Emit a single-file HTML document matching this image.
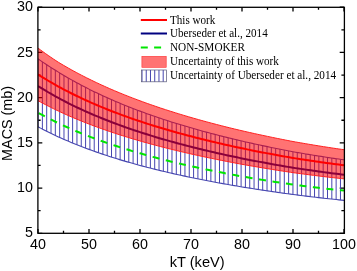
<!DOCTYPE html>
<html><head><meta charset="utf-8"><style>
html,body{margin:0;padding:0;background:#fff;}
svg{display:block;filter:blur(0.25px);}
text{font-family:"Liberation Sans",sans-serif;}
.serif text{font-family:"Liberation Serif",serif;}
</style></head><body>
<svg width="357" height="271" viewBox="0 0 357 271">
<rect width="357" height="271" fill="#fff"/>
<defs>
<clipPath id="hb"><path d="M38.00,58.79 L40.55,60.58 L43.10,62.33 L45.65,64.04 L48.20,65.72 L50.75,67.36 L53.30,68.97 L55.85,70.55 L58.40,72.10 L60.95,73.67 L63.50,75.20 L66.05,76.71 L68.60,78.18 L71.15,79.64 L73.70,81.06 L76.25,82.46 L78.80,83.84 L81.35,85.19 L83.90,86.52 L86.45,87.83 L89.00,89.12 L91.55,90.39 L94.10,91.64 L96.65,92.87 L99.20,94.08 L101.75,95.27 L104.30,96.44 L106.85,97.59 L109.40,98.73 L111.95,99.85 L114.50,100.95 L117.05,102.03 L119.60,103.10 L122.15,104.15 L124.70,105.19 L127.25,106.22 L129.80,107.22 L132.35,108.22 L134.90,109.20 L137.45,110.17 L140.00,111.12 L142.55,112.06 L145.10,112.99 L147.65,113.91 L150.20,114.82 L152.75,115.71 L155.30,116.59 L157.85,117.46 L160.40,118.32 L162.95,119.17 L165.50,120.01 L168.05,120.83 L170.60,121.65 L173.15,122.45 L175.70,123.25 L178.25,124.04 L180.80,124.82 L183.35,125.58 L185.90,126.34 L188.45,127.09 L191.00,127.83 L193.55,128.57 L196.10,129.29 L198.65,130.01 L201.20,130.72 L203.75,131.42 L206.30,132.12 L208.85,132.80 L211.40,133.48 L213.95,134.15 L216.50,134.82 L219.05,135.47 L221.60,136.12 L224.15,136.77 L226.70,137.40 L229.25,138.03 L231.80,138.65 L234.35,139.27 L236.90,139.88 L239.45,140.48 L242.00,141.08 L244.55,141.67 L247.10,142.24 L249.65,142.82 L252.20,143.38 L254.75,143.94 L257.30,144.50 L259.85,145.05 L262.40,145.59 L264.95,146.13 L267.50,146.66 L270.05,147.19 L272.60,147.72 L275.15,148.23 L277.70,148.75 L280.25,149.26 L282.80,149.76 L285.35,150.26 L287.90,150.75 L290.45,151.24 L293.00,151.73 L295.55,152.18 L298.10,152.62 L300.65,153.06 L303.20,153.49 L305.75,153.92 L308.30,154.34 L310.85,154.76 L313.40,155.18 L315.95,155.59 L318.50,156.00 L321.05,156.41 L323.60,156.81 L326.15,157.21 L328.70,157.60 L331.25,157.98 L333.80,158.35 L336.35,158.72 L338.90,159.08 L341.45,159.44 L344.00,159.79 L344.00,200.36 L341.45,200.10 L338.90,199.84 L336.35,199.57 L333.80,199.30 L331.25,199.03 L328.70,198.75 L326.15,198.47 L323.60,198.18 L321.05,197.89 L318.50,197.59 L315.95,197.30 L313.40,197.00 L310.85,196.70 L308.30,196.39 L305.75,196.08 L303.20,195.77 L300.65,195.46 L298.10,195.14 L295.55,194.82 L293.00,194.50 L290.45,194.15 L287.90,193.81 L285.35,193.46 L282.80,193.10 L280.25,192.74 L277.70,192.38 L275.15,192.02 L272.60,191.65 L270.05,191.28 L267.50,190.90 L264.95,190.52 L262.40,190.14 L259.85,189.75 L257.30,189.36 L254.75,188.96 L252.20,188.56 L249.65,188.16 L247.10,187.75 L244.55,187.34 L242.00,186.92 L239.45,186.50 L236.90,186.07 L234.35,185.64 L231.80,185.20 L229.25,184.75 L226.70,184.31 L224.15,183.85 L221.60,183.39 L219.05,182.93 L216.50,182.46 L213.95,181.99 L211.40,181.51 L208.85,181.02 L206.30,180.53 L203.75,180.04 L201.20,179.54 L198.65,179.03 L196.10,178.51 L193.55,177.99 L191.00,177.47 L188.45,176.93 L185.90,176.40 L183.35,175.85 L180.80,175.30 L178.25,174.74 L175.70,174.17 L173.15,173.60 L170.60,173.02 L168.05,172.43 L165.50,171.84 L162.95,171.23 L160.40,170.62 L157.85,170.00 L155.30,169.37 L152.75,168.74 L150.20,168.09 L147.65,167.44 L145.10,166.77 L142.55,166.10 L140.00,165.42 L137.45,164.73 L134.90,164.03 L132.35,163.31 L129.80,162.59 L127.25,161.86 L124.70,161.12 L122.15,160.36 L119.60,159.60 L117.05,158.82 L114.50,158.03 L111.95,157.23 L109.40,156.41 L106.85,155.58 L104.30,154.74 L101.75,153.89 L99.20,153.02 L96.65,152.13 L94.10,151.24 L91.55,150.32 L89.00,149.39 L86.45,148.45 L83.90,147.49 L81.35,146.51 L78.80,145.52 L76.25,144.51 L73.70,143.48 L71.15,142.43 L68.60,141.36 L66.05,140.27 L63.50,139.16 L60.95,138.03 L58.40,136.88 L55.85,135.70 L53.30,134.50 L50.75,133.28 L48.20,132.03 L45.65,130.76 L43.10,129.46 L40.55,128.13 L38.00,126.77 Z"/></clipPath>
<clipPath id="pa"><rect x="38.0" y="7.2" width="306.0" height="226.10000000000002"/></clipPath>
</defs>
<path d="M38.00,233.30 V229.00 M38.00,7.20 V11.50 M63.50,233.30 V230.70 M63.50,7.20 V9.80 M89.00,233.30 V229.00 M89.00,7.20 V11.50 M114.50,233.30 V230.70 M114.50,7.20 V9.80 M140.00,233.30 V229.00 M140.00,7.20 V11.50 M165.50,233.30 V230.70 M165.50,7.20 V9.80 M191.00,233.30 V229.00 M191.00,7.20 V11.50 M216.50,233.30 V230.70 M216.50,7.20 V9.80 M242.00,233.30 V229.00 M242.00,7.20 V11.50 M267.50,233.30 V230.70 M267.50,7.20 V9.80 M293.00,233.30 V229.00 M293.00,7.20 V11.50 M318.50,233.30 V230.70 M318.50,7.20 V9.80 M344.00,233.30 V229.00 M344.00,7.20 V11.50 M38.00,233.30 H42.30 M344.00,233.30 H339.70 M38.00,210.69 H40.60 M344.00,210.69 H341.40 M38.00,188.08 H42.30 M344.00,188.08 H339.70 M38.00,165.47 H40.60 M344.00,165.47 H341.40 M38.00,142.86 H42.30 M344.00,142.86 H339.70 M38.00,120.25 H40.60 M344.00,120.25 H341.40 M38.00,97.64 H42.30 M344.00,97.64 H339.70 M38.00,75.03 H40.60 M344.00,75.03 H341.40 M38.00,52.42 H42.30 M344.00,52.42 H339.70 M38.00,29.81 H40.60 M344.00,29.81 H341.40 M38.00,7.20 H42.30 M344.00,7.20 H339.70" stroke="#000" stroke-width="1.3"/>
<g clip-path="url(#pa)">
<path d="M38.06,0 V271 M42.38,0 V271 M46.70,0 V271 M51.02,0 V271 M55.34,0 V271 M59.66,0 V271 M63.98,0 V271 M68.30,0 V271 M72.62,0 V271 M76.94,0 V271 M81.26,0 V271 M85.58,0 V271 M89.90,0 V271 M94.22,0 V271 M98.54,0 V271 M102.86,0 V271 M107.18,0 V271 M111.50,0 V271 M115.82,0 V271 M120.14,0 V271 M124.46,0 V271 M128.78,0 V271 M133.10,0 V271 M137.42,0 V271 M141.74,0 V271 M146.06,0 V271 M150.38,0 V271 M154.70,0 V271 M159.02,0 V271 M163.34,0 V271 M167.66,0 V271 M171.98,0 V271 M176.30,0 V271 M180.62,0 V271 M184.94,0 V271 M189.26,0 V271 M193.58,0 V271 M197.90,0 V271 M202.22,0 V271 M206.54,0 V271 M210.86,0 V271 M215.18,0 V271 M219.50,0 V271 M223.82,0 V271 M228.14,0 V271 M232.46,0 V271 M236.78,0 V271 M241.10,0 V271 M245.42,0 V271 M249.74,0 V271 M254.06,0 V271 M258.38,0 V271 M262.70,0 V271 M267.02,0 V271 M271.34,0 V271 M275.66,0 V271 M279.98,0 V271 M284.30,0 V271 M288.62,0 V271 M292.94,0 V271 M297.26,0 V271 M301.58,0 V271 M305.90,0 V271 M310.22,0 V271 M314.54,0 V271 M318.86,0 V271 M323.18,0 V271 M327.50,0 V271 M331.82,0 V271 M336.14,0 V271 M340.46,0 V271" stroke="#4646b0" stroke-width="1.0" clip-path="url(#hb)"/>
<path d="M38.00,58.79 L40.55,60.58 L43.10,62.33 L45.65,64.04 L48.20,65.72 L50.75,67.36 L53.30,68.97 L55.85,70.55 L58.40,72.10 L60.95,73.67 L63.50,75.20 L66.05,76.71 L68.60,78.18 L71.15,79.64 L73.70,81.06 L76.25,82.46 L78.80,83.84 L81.35,85.19 L83.90,86.52 L86.45,87.83 L89.00,89.12 L91.55,90.39 L94.10,91.64 L96.65,92.87 L99.20,94.08 L101.75,95.27 L104.30,96.44 L106.85,97.59 L109.40,98.73 L111.95,99.85 L114.50,100.95 L117.05,102.03 L119.60,103.10 L122.15,104.15 L124.70,105.19 L127.25,106.22 L129.80,107.22 L132.35,108.22 L134.90,109.20 L137.45,110.17 L140.00,111.12 L142.55,112.06 L145.10,112.99 L147.65,113.91 L150.20,114.82 L152.75,115.71 L155.30,116.59 L157.85,117.46 L160.40,118.32 L162.95,119.17 L165.50,120.01 L168.05,120.83 L170.60,121.65 L173.15,122.45 L175.70,123.25 L178.25,124.04 L180.80,124.82 L183.35,125.58 L185.90,126.34 L188.45,127.09 L191.00,127.83 L193.55,128.57 L196.10,129.29 L198.65,130.01 L201.20,130.72 L203.75,131.42 L206.30,132.12 L208.85,132.80 L211.40,133.48 L213.95,134.15 L216.50,134.82 L219.05,135.47 L221.60,136.12 L224.15,136.77 L226.70,137.40 L229.25,138.03 L231.80,138.65 L234.35,139.27 L236.90,139.88 L239.45,140.48 L242.00,141.08 L244.55,141.67 L247.10,142.24 L249.65,142.82 L252.20,143.38 L254.75,143.94 L257.30,144.50 L259.85,145.05 L262.40,145.59 L264.95,146.13 L267.50,146.66 L270.05,147.19 L272.60,147.72 L275.15,148.23 L277.70,148.75 L280.25,149.26 L282.80,149.76 L285.35,150.26 L287.90,150.75 L290.45,151.24 L293.00,151.73 L295.55,152.18 L298.10,152.62 L300.65,153.06 L303.20,153.49 L305.75,153.92 L308.30,154.34 L310.85,154.76 L313.40,155.18 L315.95,155.59 L318.50,156.00 L321.05,156.41 L323.60,156.81 L326.15,157.21 L328.70,157.60 L331.25,157.98 L333.80,158.35 L336.35,158.72 L338.90,159.08 L341.45,159.44 L344.00,159.79" fill="none" stroke="#4646b0" stroke-width="1.1"/>
<path d="M38.00,126.77 L40.55,128.13 L43.10,129.46 L45.65,130.76 L48.20,132.03 L50.75,133.28 L53.30,134.50 L55.85,135.70 L58.40,136.88 L60.95,138.03 L63.50,139.16 L66.05,140.27 L68.60,141.36 L71.15,142.43 L73.70,143.48 L76.25,144.51 L78.80,145.52 L81.35,146.51 L83.90,147.49 L86.45,148.45 L89.00,149.39 L91.55,150.32 L94.10,151.24 L96.65,152.13 L99.20,153.02 L101.75,153.89 L104.30,154.74 L106.85,155.58 L109.40,156.41 L111.95,157.23 L114.50,158.03 L117.05,158.82 L119.60,159.60 L122.15,160.36 L124.70,161.12 L127.25,161.86 L129.80,162.59 L132.35,163.31 L134.90,164.03 L137.45,164.73 L140.00,165.42 L142.55,166.10 L145.10,166.77 L147.65,167.44 L150.20,168.09 L152.75,168.74 L155.30,169.37 L157.85,170.00 L160.40,170.62 L162.95,171.23 L165.50,171.84 L168.05,172.43 L170.60,173.02 L173.15,173.60 L175.70,174.17 L178.25,174.74 L180.80,175.30 L183.35,175.85 L185.90,176.40 L188.45,176.93 L191.00,177.47 L193.55,177.99 L196.10,178.51 L198.65,179.03 L201.20,179.54 L203.75,180.04 L206.30,180.53 L208.85,181.02 L211.40,181.51 L213.95,181.99 L216.50,182.46 L219.05,182.93 L221.60,183.39 L224.15,183.85 L226.70,184.31 L229.25,184.75 L231.80,185.20 L234.35,185.64 L236.90,186.07 L239.45,186.50 L242.00,186.92 L244.55,187.34 L247.10,187.75 L249.65,188.16 L252.20,188.56 L254.75,188.96 L257.30,189.36 L259.85,189.75 L262.40,190.14 L264.95,190.52 L267.50,190.90 L270.05,191.28 L272.60,191.65 L275.15,192.02 L277.70,192.38 L280.25,192.74 L282.80,193.10 L285.35,193.46 L287.90,193.81 L290.45,194.15 L293.00,194.50 L295.55,194.82 L298.10,195.14 L300.65,195.46 L303.20,195.77 L305.75,196.08 L308.30,196.39 L310.85,196.70 L313.40,197.00 L315.95,197.30 L318.50,197.59 L321.05,197.89 L323.60,198.18 L326.15,198.47 L328.70,198.75 L331.25,199.03 L333.80,199.30 L336.35,199.57 L338.90,199.84 L341.45,200.10 L344.00,200.36" fill="none" stroke="#4646b0" stroke-width="1.1"/>
<path d="M38.00,86.03 L40.55,87.63 L43.10,89.19 L45.65,90.73 L48.20,92.24 L50.75,93.71 L53.30,95.16 L55.85,96.58 L58.40,97.98 L60.95,99.34 L63.50,100.69 L66.05,102.00 L68.60,103.30 L71.15,104.57 L73.70,105.81 L76.25,107.04 L78.80,108.24 L81.35,109.43 L83.90,110.59 L86.45,111.74 L89.00,112.86 L91.55,113.97 L94.10,115.07 L96.65,116.14 L99.20,117.20 L101.75,118.24 L104.30,119.27 L106.85,120.28 L109.40,121.27 L111.95,122.25 L114.50,123.22 L117.05,124.17 L119.60,125.10 L122.15,126.03 L124.70,126.94 L127.25,127.83 L129.80,128.71 L132.35,129.59 L134.90,130.44 L137.45,131.29 L140.00,132.13 L142.55,132.95 L145.10,133.77 L147.65,134.57 L150.20,135.36 L152.75,136.15 L155.30,136.92 L157.85,137.68 L160.40,138.43 L162.95,139.18 L165.50,139.91 L168.05,140.64 L170.60,141.35 L173.15,142.06 L175.70,142.76 L178.25,143.45 L180.80,144.13 L183.35,144.80 L185.90,145.47 L188.45,146.12 L191.00,146.77 L193.55,147.42 L196.10,148.05 L198.65,148.68 L201.20,149.31 L203.75,149.92 L206.30,150.53 L208.85,151.13 L211.40,151.73 L213.95,152.32 L216.50,152.90 L219.05,153.48 L221.60,154.05 L224.15,154.61 L226.70,155.17 L229.25,155.72 L231.80,156.27 L234.35,156.81 L236.90,157.34 L239.45,157.87 L242.00,158.40 L244.55,158.91 L247.10,159.41 L249.65,159.92 L252.20,160.41 L254.75,160.90 L257.30,161.39 L259.85,161.87 L262.40,162.35 L264.95,162.82 L267.50,163.29 L270.05,163.75 L272.60,164.21 L275.15,164.66 L277.70,165.11 L280.25,165.56 L282.80,166.00 L285.35,166.44 L287.90,166.87 L290.45,167.30 L293.00,167.73 L295.55,168.12 L298.10,168.50 L300.65,168.88 L303.20,169.25 L305.75,169.62 L308.30,169.99 L310.85,170.36 L313.40,170.72 L315.95,171.08 L318.50,171.43 L321.05,171.78 L323.60,172.13 L326.15,172.47 L328.70,172.82 L331.25,173.14 L333.80,173.46 L336.35,173.78 L338.90,174.09 L341.45,174.39 L344.00,174.70" fill="none" stroke="#000080" stroke-width="2"/>
<path d="M38.00,48.08 L40.55,49.97 L43.10,51.83 L45.65,53.65 L48.20,55.44 L50.75,57.19 L53.30,58.92 L55.85,60.61 L58.40,62.26 L60.95,63.79 L63.50,65.30 L66.05,66.78 L68.60,68.23 L71.15,69.66 L73.70,71.06 L76.25,72.44 L78.80,73.80 L81.35,75.13 L83.90,76.44 L86.45,77.73 L89.00,79.00 L91.55,80.26 L94.10,81.49 L96.65,82.70 L99.20,83.90 L101.75,85.08 L104.30,86.23 L106.85,87.38 L109.40,88.50 L111.95,89.61 L114.50,90.70 L117.05,91.77 L119.60,92.83 L122.15,93.88 L124.70,94.91 L127.25,95.92 L129.80,96.93 L132.35,97.91 L134.90,98.89 L137.45,99.85 L140.00,100.80 L142.55,101.73 L145.10,102.66 L147.65,103.57 L150.20,104.47 L152.75,105.36 L155.30,106.24 L157.85,107.11 L160.40,107.97 L162.95,108.81 L165.50,109.65 L168.05,110.47 L170.60,111.29 L173.15,112.09 L175.70,112.89 L178.25,113.67 L180.80,114.45 L183.35,115.22 L185.90,115.98 L188.45,116.73 L191.00,117.47 L193.55,118.21 L196.10,118.93 L198.65,119.65 L201.20,120.36 L203.75,121.07 L206.30,121.76 L208.85,122.45 L211.40,123.13 L213.95,123.80 L216.50,124.47 L219.05,125.13 L221.60,125.78 L224.15,126.43 L226.70,127.07 L229.25,127.70 L231.80,128.33 L234.35,128.95 L236.90,129.56 L239.45,130.17 L242.00,130.77 L244.55,131.35 L247.10,131.94 L249.65,132.51 L252.20,133.08 L254.75,133.65 L257.30,134.21 L259.85,134.76 L262.40,135.31 L264.95,135.85 L267.50,136.39 L270.05,136.93 L272.60,137.45 L275.15,137.98 L277.70,138.50 L280.25,139.01 L282.80,139.52 L285.35,140.02 L287.90,140.52 L290.45,141.02 L293.00,141.51 L295.55,141.96 L298.10,142.41 L300.65,142.85 L303.20,143.29 L305.75,143.73 L308.30,144.16 L310.85,144.58 L313.40,145.01 L315.95,145.43 L318.50,145.84 L321.05,146.25 L323.60,146.66 L326.15,147.06 L328.70,147.46 L331.25,147.85 L333.80,148.23 L336.35,148.60 L338.90,148.97 L341.45,149.33 L344.00,149.70 L344.00,178.85 L341.45,178.58 L338.90,178.31 L336.35,178.03 L333.80,177.76 L331.25,177.48 L328.70,177.18 L326.15,176.88 L323.60,176.57 L321.05,176.26 L318.50,175.95 L315.95,175.64 L313.40,175.32 L310.85,175.00 L308.30,174.67 L305.75,174.34 L303.20,174.01 L300.65,173.68 L298.10,173.34 L295.55,173.00 L293.00,172.66 L290.45,172.28 L287.90,171.89 L285.35,171.50 L282.80,171.11 L280.25,170.71 L277.70,170.31 L275.15,169.91 L272.60,169.50 L270.05,169.09 L267.50,168.68 L264.95,168.26 L262.40,167.84 L259.85,167.41 L257.30,166.98 L254.75,166.54 L252.20,166.10 L249.65,165.66 L247.10,165.21 L244.55,164.76 L242.00,164.30 L239.45,163.83 L236.90,163.36 L234.35,162.88 L231.80,162.40 L229.25,161.91 L226.70,161.42 L224.15,160.92 L221.60,160.42 L219.05,159.91 L216.50,159.39 L213.95,158.87 L211.40,158.35 L208.85,157.82 L206.30,157.28 L203.75,156.74 L201.20,156.19 L198.65,155.64 L196.10,155.08 L193.55,154.51 L191.00,153.94 L188.45,153.36 L185.90,152.77 L183.35,152.18 L180.80,151.59 L178.25,150.98 L175.70,150.37 L173.15,149.75 L170.60,149.12 L168.05,148.49 L165.50,147.85 L162.95,147.20 L160.40,146.54 L157.85,145.87 L155.30,145.20 L152.75,144.52 L150.20,143.82 L147.65,143.12 L145.10,142.41 L142.55,141.69 L140.00,140.96 L137.45,140.23 L134.90,139.48 L132.35,138.72 L129.80,137.96 L127.25,137.18 L124.70,136.39 L122.15,135.59 L119.60,134.78 L117.05,133.95 L114.50,133.12 L111.95,132.27 L109.40,131.41 L106.85,130.54 L104.30,129.65 L101.75,128.75 L99.20,127.84 L96.65,126.91 L94.10,125.97 L91.55,125.01 L89.00,124.04 L86.45,123.05 L83.90,122.05 L81.35,121.03 L78.80,120.00 L76.25,118.95 L73.70,117.88 L71.15,116.79 L68.60,115.68 L66.05,114.56 L63.50,113.41 L60.95,112.24 L58.40,111.05 L55.85,109.84 L53.30,108.61 L50.75,107.35 L48.20,106.06 L45.65,104.76 L43.10,103.42 L40.55,102.06 L38.00,100.68 Z" fill="rgba(255,0,0,0.55)"/>
<path d="M38.00,48.08 L40.55,49.97 L43.10,51.83 L45.65,53.65 L48.20,55.44 L50.75,57.19 L53.30,58.92 L55.85,60.61 L58.40,62.26 L60.95,63.79 L63.50,65.30 L66.05,66.78 L68.60,68.23 L71.15,69.66 L73.70,71.06 L76.25,72.44 L78.80,73.80 L81.35,75.13 L83.90,76.44 L86.45,77.73 L89.00,79.00 L91.55,80.26 L94.10,81.49 L96.65,82.70 L99.20,83.90 L101.75,85.08 L104.30,86.23 L106.85,87.38 L109.40,88.50 L111.95,89.61 L114.50,90.70 L117.05,91.77 L119.60,92.83 L122.15,93.88 L124.70,94.91 L127.25,95.92 L129.80,96.93 L132.35,97.91 L134.90,98.89 L137.45,99.85 L140.00,100.80 L142.55,101.73 L145.10,102.66 L147.65,103.57 L150.20,104.47 L152.75,105.36 L155.30,106.24 L157.85,107.11 L160.40,107.97 L162.95,108.81 L165.50,109.65 L168.05,110.47 L170.60,111.29 L173.15,112.09 L175.70,112.89 L178.25,113.67 L180.80,114.45 L183.35,115.22 L185.90,115.98 L188.45,116.73 L191.00,117.47 L193.55,118.21 L196.10,118.93 L198.65,119.65 L201.20,120.36 L203.75,121.07 L206.30,121.76 L208.85,122.45 L211.40,123.13 L213.95,123.80 L216.50,124.47 L219.05,125.13 L221.60,125.78 L224.15,126.43 L226.70,127.07 L229.25,127.70 L231.80,128.33 L234.35,128.95 L236.90,129.56 L239.45,130.17 L242.00,130.77 L244.55,131.35 L247.10,131.94 L249.65,132.51 L252.20,133.08 L254.75,133.65 L257.30,134.21 L259.85,134.76 L262.40,135.31 L264.95,135.85 L267.50,136.39 L270.05,136.93 L272.60,137.45 L275.15,137.98 L277.70,138.50 L280.25,139.01 L282.80,139.52 L285.35,140.02 L287.90,140.52 L290.45,141.02 L293.00,141.51 L295.55,141.96 L298.10,142.41 L300.65,142.85 L303.20,143.29 L305.75,143.73 L308.30,144.16 L310.85,144.58 L313.40,145.01 L315.95,145.43 L318.50,145.84 L321.05,146.25 L323.60,146.66 L326.15,147.06 L328.70,147.46 L331.25,147.85 L333.80,148.23 L336.35,148.60 L338.90,148.97 L341.45,149.33 L344.00,149.70" fill="none" stroke="#ff2020" stroke-width="1"/>
<path d="M38.00,100.68 L40.55,102.06 L43.10,103.42 L45.65,104.76 L48.20,106.06 L50.75,107.35 L53.30,108.61 L55.85,109.84 L58.40,111.05 L60.95,112.24 L63.50,113.41 L66.05,114.56 L68.60,115.68 L71.15,116.79 L73.70,117.88 L76.25,118.95 L78.80,120.00 L81.35,121.03 L83.90,122.05 L86.45,123.05 L89.00,124.04 L91.55,125.01 L94.10,125.97 L96.65,126.91 L99.20,127.84 L101.75,128.75 L104.30,129.65 L106.85,130.54 L109.40,131.41 L111.95,132.27 L114.50,133.12 L117.05,133.95 L119.60,134.78 L122.15,135.59 L124.70,136.39 L127.25,137.18 L129.80,137.96 L132.35,138.72 L134.90,139.48 L137.45,140.23 L140.00,140.96 L142.55,141.69 L145.10,142.41 L147.65,143.12 L150.20,143.82 L152.75,144.52 L155.30,145.20 L157.85,145.87 L160.40,146.54 L162.95,147.20 L165.50,147.85 L168.05,148.49 L170.60,149.12 L173.15,149.75 L175.70,150.37 L178.25,150.98 L180.80,151.59 L183.35,152.18 L185.90,152.77 L188.45,153.36 L191.00,153.94 L193.55,154.51 L196.10,155.08 L198.65,155.64 L201.20,156.19 L203.75,156.74 L206.30,157.28 L208.85,157.82 L211.40,158.35 L213.95,158.87 L216.50,159.39 L219.05,159.91 L221.60,160.42 L224.15,160.92 L226.70,161.42 L229.25,161.91 L231.80,162.40 L234.35,162.88 L236.90,163.36 L239.45,163.83 L242.00,164.30 L244.55,164.76 L247.10,165.21 L249.65,165.66 L252.20,166.10 L254.75,166.54 L257.30,166.98 L259.85,167.41 L262.40,167.84 L264.95,168.26 L267.50,168.68 L270.05,169.09 L272.60,169.50 L275.15,169.91 L277.70,170.31 L280.25,170.71 L282.80,171.11 L285.35,171.50 L287.90,171.89 L290.45,172.28 L293.00,172.66 L295.55,173.00 L298.10,173.34 L300.65,173.68 L303.20,174.01 L305.75,174.34 L308.30,174.67 L310.85,175.00 L313.40,175.32 L315.95,175.64 L318.50,175.95 L321.05,176.26 L323.60,176.57 L326.15,176.88 L328.70,177.18 L331.25,177.48 L333.80,177.76 L336.35,178.03 L338.90,178.31 L341.45,178.58 L344.00,178.85" fill="none" stroke="#ff2020" stroke-width="1"/>
<path d="M38.00,112.64 L40.55,114.06 L43.10,115.44 L45.65,116.80 L48.20,118.13 L50.75,119.44 L53.30,120.72 L55.85,121.98 L58.40,123.21 L60.95,124.42 L63.50,125.60 L66.05,126.77 L68.60,127.91 L71.15,129.03 L73.70,130.13 L76.25,131.21 L78.80,132.28 L81.35,133.32 L83.90,134.35 L86.45,135.36 L89.00,136.35 L91.55,137.33 L94.10,138.30 L96.65,139.24 L99.20,140.18 L101.75,141.10 L104.30,142.00 L106.85,142.89 L109.40,143.77 L111.95,144.63 L114.50,145.48 L117.05,146.32 L119.60,147.14 L122.15,147.96 L124.70,148.76 L127.25,149.55 L129.80,150.32 L132.35,151.09 L134.90,151.85 L137.45,152.59 L140.00,153.32 L142.55,154.05 L145.10,154.77 L147.65,155.48 L150.20,156.17 L152.75,156.86 L155.30,157.54 L157.85,158.21 L160.40,158.88 L162.95,159.53 L165.50,160.18 L168.05,160.81 L170.60,161.44 L173.15,162.06 L175.70,162.68 L178.25,163.28 L180.80,163.88 L183.35,164.47 L185.90,165.06 L188.45,165.63 L191.00,166.21 L193.55,166.77 L196.10,167.33 L198.65,167.88 L201.20,168.43 L203.75,168.97 L206.30,169.51 L208.85,170.04 L211.40,170.56 L213.95,171.08 L216.50,171.59 L219.05,172.09 L221.60,172.59 L224.15,173.09 L226.70,173.58 L229.25,174.06 L231.80,174.54 L234.35,175.02 L236.90,175.49 L239.45,175.95 L242.00,176.41 L244.55,176.86 L247.10,177.30 L249.65,177.74 L252.20,178.18 L254.75,178.61 L257.30,179.03 L259.85,179.46 L262.40,179.87 L264.95,180.29 L267.50,180.70 L270.05,181.10 L272.60,181.50 L275.15,181.90 L277.70,182.29 L280.25,182.68 L282.80,183.07 L285.35,183.45 L287.90,183.83 L290.45,184.21 L293.00,184.58 L295.55,184.91 L298.10,185.24 L300.65,185.57 L303.20,185.89 L305.75,186.21 L308.30,186.53 L310.85,186.85 L313.40,187.16 L315.95,187.47 L318.50,187.77 L321.05,188.07 L323.60,188.37 L326.15,188.67 L328.70,188.96 L331.25,189.24 L333.80,189.51 L336.35,189.78 L338.90,190.05 L341.45,190.31 L344.00,190.57" fill="none" stroke="#00e600" stroke-width="2" stroke-dasharray="7,6.6" stroke-dashoffset="12.82"/>
<path d="M38.00,74.46 L40.55,76.08 L43.10,77.66 L45.65,79.22 L48.20,80.74 L50.75,82.23 L53.30,83.70 L55.85,85.14 L58.40,86.55 L60.95,87.94 L63.50,89.30 L66.05,90.63 L68.60,91.95 L71.15,93.24 L73.70,94.50 L76.25,95.75 L78.80,96.97 L81.35,98.18 L83.90,99.36 L86.45,100.52 L89.00,101.67 L91.55,102.80 L94.10,103.91 L96.65,105.01 L99.20,106.09 L101.75,107.15 L104.30,108.19 L106.85,109.22 L109.40,110.24 L111.95,111.24 L114.50,112.22 L117.05,113.19 L119.60,114.15 L122.15,115.09 L124.70,116.02 L127.25,116.93 L129.80,117.84 L132.35,118.73 L134.90,119.60 L137.45,120.47 L140.00,121.32 L142.55,122.17 L145.10,123.00 L147.65,123.83 L150.20,124.64 L152.75,125.44 L155.30,126.23 L157.85,127.01 L160.40,127.79 L162.95,128.55 L165.50,129.30 L168.05,130.04 L170.60,130.78 L173.15,131.50 L175.70,132.22 L178.25,132.93 L180.80,133.63 L183.35,134.32 L185.90,135.00 L188.45,135.68 L191.00,136.34 L193.55,137.01 L196.10,137.66 L198.65,138.31 L201.20,138.95 L203.75,139.58 L206.30,140.21 L208.85,140.83 L211.40,141.44 L213.95,142.05 L216.50,142.65 L219.05,143.24 L221.60,143.83 L224.15,144.41 L226.70,144.99 L229.25,145.55 L231.80,146.12 L234.35,146.68 L236.90,147.23 L239.45,147.77 L242.00,148.31 L244.55,148.84 L247.10,149.37 L249.65,149.88 L252.20,150.40 L254.75,150.90 L257.30,151.41 L259.85,151.90 L262.40,152.40 L264.95,152.88 L267.50,153.37 L270.05,153.85 L272.60,154.32 L275.15,154.79 L277.70,155.26 L280.25,155.72 L282.80,156.18 L285.35,156.63 L287.90,157.08 L290.45,157.52 L293.00,157.96 L295.55,158.37 L298.10,158.76 L300.65,159.16 L303.20,159.55 L305.75,159.94 L308.30,160.32 L310.85,160.70 L313.40,161.07 L315.95,161.45 L318.50,161.81 L321.05,162.18 L323.60,162.54 L326.15,162.90 L328.70,163.26 L331.25,163.60 L333.80,163.93 L336.35,164.26 L338.90,164.59 L341.45,164.91 L344.00,165.23" fill="none" stroke="#ff0000" stroke-width="2"/>
</g>
<rect x="37.9" y="7.3" width="306.5" height="226.0" fill="none" stroke="#000" stroke-width="1.3"/>
<g font-size="14.3" fill="#000"><text x="38.00" y="249.3" text-anchor="middle">40</text><text x="89.00" y="249.3" text-anchor="middle">50</text><text x="140.00" y="249.3" text-anchor="middle">60</text><text x="191.00" y="249.3" text-anchor="middle">70</text><text x="242.00" y="249.3" text-anchor="middle">80</text><text x="293.00" y="249.3" text-anchor="middle">90</text><text x="344.00" y="249.3" text-anchor="middle">100</text><text x="33.0" y="237.40" text-anchor="end">5</text><text x="33.0" y="192.18" text-anchor="end">10</text><text x="33.0" y="146.96" text-anchor="end">15</text><text x="33.0" y="101.74" text-anchor="end">20</text><text x="33.0" y="56.52" text-anchor="end">25</text><text x="33.0" y="11.30" text-anchor="end">30</text></g>

<g class="serif" font-size="11.6" fill="#000">
<path d="M140.8,20 H167.0" stroke="#ff0000" stroke-width="2"/>
<text x="170" y="23.5" textLength="45.32" lengthAdjust="spacingAndGlyphs">This work</text>
<path d="M140.8,33.5 H167.0" stroke="#000080" stroke-width="2"/>
<text x="170" y="37.4" textLength="97.71" lengthAdjust="spacingAndGlyphs">Uberseder et al., 2014</text>
<path d="M140.8,47.5 H167.0" stroke="#00e600" stroke-width="2" stroke-dasharray="7,6.3"/>
<text x="170" y="51.2" textLength="75.00" lengthAdjust="spacingAndGlyphs">NON-SMOKER</text>
<rect x="141.9" y="56.3" width="24.3" height="11" fill="rgba(255,0,0,0.55)" stroke="#ff3030" stroke-width="0.6"/>
<text x="170" y="65.1" textLength="108.82" lengthAdjust="spacingAndGlyphs">Uncertainty of this work</text>
<text x="170" y="79.0" textLength="166.10" lengthAdjust="spacingAndGlyphs">Uncertainty of Uberseder et al., 2014</text>
</g>
<clipPath id="lh"><rect x="141.6" y="70" width="24.8" height="11.8"/></clipPath>
<path d="M142.00,60 V90 M146.24,60 V90 M150.48,60 V90 M154.72,60 V90 M158.96,60 V90 M163.20,60 V90" stroke="#4646b0" stroke-width="1.0" clip-path="url(#lh)"/>
<rect x="141.6" y="70" width="24.8" height="11.8" fill="none" stroke="#555577" stroke-width="0.7"/>

<text x="197.2" y="266.6" font-size="14" text-anchor="middle" textLength="55" lengthAdjust="spacingAndGlyphs">kT (keV)</text>
<text transform="translate(11.8,123.4) rotate(-90)" font-size="14" text-anchor="middle" textLength="75" lengthAdjust="spacingAndGlyphs">MACS (mb)</text>
</svg>
</body></html>
